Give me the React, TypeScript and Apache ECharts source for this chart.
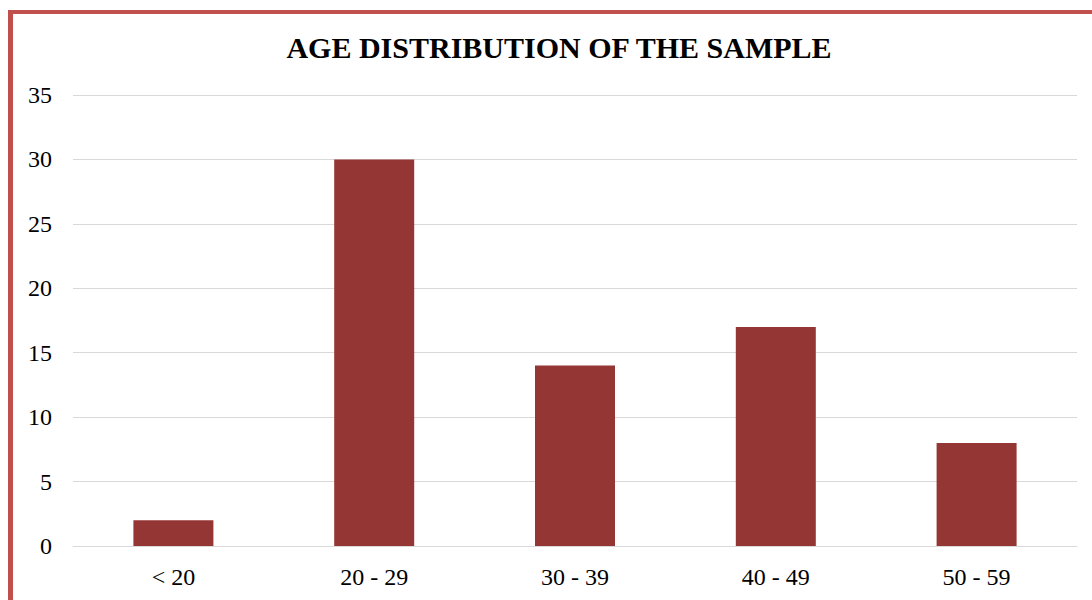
import React, { useEffect, useRef } from "react";
import * as echarts from "echarts";

const categories = ["< 20", "20 - 29", "30 - 39", "40 - 49", "50 - 59"];
const counts = [2, 30, 14, 17, 8];
const titleText = "AGE DISTRIBUTION OF THE SAMPLE";

const serif = "'Liberation Serif', 'Times New Roman', serif";

export default function App() {
  const ref = useRef<HTMLDivElement>(null);

  useEffect(() => {
    if (!ref.current) return;
    const chart = echarts.init(ref.current, undefined, { renderer: "svg" });
    chart.setOption({
      animation: false,
      backgroundColor: "#ffffff",
      title: {
        text: titleText,
        left: 554,
        top: 27,
        textAlign: "center",
        textStyle: {
          fontFamily: serif,
          fontWeight: "bold",
          fontSize: 30,
          color: "#000000",
        },
      },
      graphic: [
        {
          type: "line",
          shape: { x1: 10.5, y1: 10, x2: 10.5, y2: 600 },
          style: { stroke: "#c0504d", lineWidth: 5 },
        },
        {
          type: "line",
          shape: { x1: 8, y1: 12, x2: 1092, y2: 12 },
          style: { stroke: "#c0504d", lineWidth: 4 },
        },
      ],
      grid: { left: 73, top: 95, width: 1004, height: 451 },
      xAxis: {
        type: "category",
        data: categories,
        axisLine: { show: true, lineStyle: { color: "#d9d9d9", width: 1 } },
        axisTick: { show: false },
        axisLabel: {
          fontFamily: serif,
          fontSize: 24,
          color: "#000000",
          margin: 19,
        },
      },
      yAxis: {
        type: "value",
        min: 0,
        max: 35,
        interval: 5,
        axisLine: { show: false },
        axisTick: { show: false },
        splitLine: { lineStyle: { color: "#d9d9d9", width: 1 } },
        axisLabel: {
          fontFamily: serif,
          fontSize: 24,
          color: "#000000",
          margin: 21,
        },
      },
      series: [
        {
          type: "bar",
          data: counts,
          barWidth: 80,
          itemStyle: { color: "#943634" },
        },
      ],
    });
    return () => chart.dispose();
  }, []);

  return (
    <div
      ref={ref}
      style={{ position: "fixed", left: 0, top: 0, width: 1092, height: 600 }}
    />
  );
}
